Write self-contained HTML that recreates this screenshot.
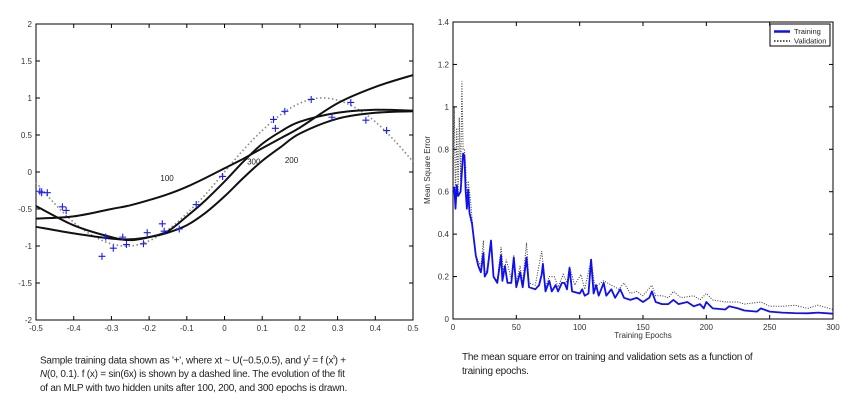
<!DOCTYPE html>
<html><head><meta charset="utf-8"><style>
body{margin:0;width:862px;height:413px;background:#fff;overflow:hidden;font-family:"Liberation Sans",sans-serif}
svg{position:absolute;left:0;top:0}
.cap{position:absolute;font-size:10px;line-height:14px;color:#222;letter-spacing:-0.25px}
</style></head><body>
<svg id="c" width="862" height="413"></svg>
<div class="cap" style="left:40px;top:351px;width:370px">Sample training data shown as '+', where xt ~ U(−0.5,0.5), and y<sup style="font-size:6px">t</sup> = f (x<sup style="font-size:6px">t</sup>) +<br><i>N</i>(0, 0.1). f (x) = sin(6x) is shown by a dashed line. The evolution of the fit<br>of an MLP with two hidden units after 100, 200, and 300 epochs is drawn.</div>
<div class="cap" style="left:462px;top:351px;width:370px">The mean square error on training and validation sets as a function of<br>training epochs.</div>
<script>
const fxs=[-0.5,-0.45,-0.4,-0.35,-0.3,-0.25,-0.2,-0.15,-0.1,-0.05,0,0.05,0.1,0.15,0.2,0.25,0.3,0.35,0.4,0.45,0.5];
const sinVals=[-0.14,-0.43,-0.68,-0.86,-0.97,-1.0,-0.93,-0.78,-0.56,-0.3,0,0.3,0.56,0.78,0.93,1.0,0.97,0.86,0.68,0.43,0.14];
const cx=[-0.5,-0.4,-0.3,-0.25,-0.2,-0.15,-0.1,-0.05,0,0.05,0.1,0.15,0.2,0.3,0.4,0.5];
const fit100=[-0.63,-0.6,-0.5,-0.45,-0.38,-0.3,-0.2,-0.08,0.05,0.18,0.32,0.46,0.6,0.93,1.15,1.31];
const fit200=[-0.74,-0.83,-0.9,-0.91,-0.88,-0.82,-0.72,-0.55,-0.33,-0.08,0.15,0.34,0.52,0.72,0.8,0.82];
const fit300=[-0.46,-0.72,-0.88,-0.92,-0.88,-0.8,-0.6,-0.38,-0.13,0.14,0.38,0.55,0.68,0.8,0.84,0.83];
const ptX=[-0.49,-0.485,-0.47,-0.43,-0.42,-0.325,-0.315,-0.295,-0.27,-0.26,-0.215,-0.205,-0.165,-0.16,-0.12,-0.075,-0.005,0.13,0.135,0.16,0.23,0.285,0.335,0.375,0.43];
const ptY=[-0.26,-0.28,-0.28,-0.47,-0.52,-1.14,-0.88,-1.03,-0.88,-0.98,-0.97,-0.82,-0.7,-0.8,-0.77,-0.44,-0.06,0.71,0.59,0.82,0.98,0.74,0.94,0.7,0.56];
const lxTicks=["-0.5","-0.4","-0.3","-0.2","-0.1","0","0.1","0.2","0.3","0.4","0.5"];
const lyTicks=["-2","-1.5","-1","-0.5","0","0.5","1","1.5","2"];
const trE=[0,1,2,3,4,6,8,9,10,11,12,13,15,18,20,22,24,25,27,30,32,35,38,39,41,43,46,48,50,53,55,58,60,65,68,70,71,73,76,78,81,83,86,88,90,92,94,100,102,104,107,109,111,113,115,119,121,125,128,132,135,140,145,150,155,157,160,165,170,174,178,185,190,195,198,200,205,215,218,225,230,240,243,250,260,270,280,288,300];
const trV=[0.6,0.62,0.52,0.63,0.58,0.6,0.78,0.77,0.6,0.52,0.61,0.5,0.45,0.3,0.25,0.22,0.31,0.2,0.22,0.37,0.2,0.17,0.3,0.18,0.25,0.17,0.17,0.29,0.15,0.22,0.15,0.29,0.15,0.14,0.16,0.21,0.26,0.13,0.18,0.13,0.16,0.13,0.17,0.17,0.14,0.24,0.13,0.12,0.14,0.11,0.12,0.28,0.12,0.16,0.11,0.17,0.11,0.14,0.1,0.14,0.1,0.09,0.1,0.08,0.1,0.13,0.08,0.07,0.07,0.09,0.07,0.08,0.06,0.07,0.05,0.08,0.05,0.045,0.06,0.05,0.04,0.035,0.05,0.035,0.03,0.028,0.027,0.03,0.025];
const vaE=[0,1,2,3,4,5,6,7,8,9,10,11,12,14,16,18,20,22,24,25,27,30,32,35,38,40,42,46,48,50,53,55,58,60,65,70,73,76,80,83,87,90,92,96,101,104,109,112,119,125,131,135,140,145,150,157,160,165,170,174,180,190,195,200,205,215,225,230,243,250,260,270,280,288,300];
const vaV=[0.6,1.0,0.55,0.9,0.6,0.95,0.65,1.12,0.8,0.8,0.72,0.55,0.65,0.55,0.4,0.3,0.27,0.25,0.37,0.2,0.24,0.36,0.2,0.18,0.34,0.2,0.28,0.19,0.3,0.17,0.25,0.17,0.36,0.17,0.16,0.32,0.15,0.2,0.2,0.15,0.21,0.17,0.25,0.16,0.21,0.14,0.28,0.15,0.18,0.16,0.14,0.17,0.12,0.13,0.11,0.16,0.11,0.11,0.1,0.13,0.1,0.11,0.09,0.12,0.09,0.08,0.08,0.07,0.08,0.06,0.06,0.065,0.05,0.065,0.045];
const rxTicks=["0","50","100","150","200","250","300"];
const ryTicks=["0","0.2","0.4","0.6","0.8","1","1.2","1.4"];

const svg=document.getElementById('c');const NS="http://www.w3.org/2000/svg";
function mk(t,a,name,txt){const e=document.createElementNS(NS,t);for(const k in a)e.setAttribute(k,a[k]);


if(txt!==undefined)e.textContent=txt;svg.appendChild(e);return e;}
const L={x0:36,x1:413,y0:24,y1:320};
const lx=v=>L.x0+(v+0.5)*(L.x1-L.x0);const ly=v=>L.y1-(v+2)/4*(L.y1-L.y0);
const R={x0:453,x1:833,y0:22,y1:319};
const rx=v=>R.x0+v/300*(R.x1-R.x0);const ry=v=>R.y1-v/1.4*(R.y1-R.y0);
function frame(P,name){mk('rect',{x:P.x0,y:P.y0,width:P.x1-P.x0,height:P.y1-P.y0,fill:'none',stroke:'#000','stroke-width':1},name);}
frame(L,'left-plot-frame');frame(R,'right-plot-frame');
lxTicks.forEach(t=>{const x=lx(+t);mk('line',{x1:x,x2:x,y1:L.y1,y2:L.y1-4,stroke:'#000'},'x-tick');mk('line',{x1:x,x2:x,y1:L.y0,y2:L.y0+4,stroke:'#000'},'x-tick');
mk('text',{x:x,y:L.y1+11,'font-size':8,'text-anchor':'middle',fill:'#333'},'x-tick-label',t);});
lyTicks.forEach(t=>{const y=ly(+t);mk('line',{x1:L.x0,x2:L.x0+4,y1:y,y2:y,stroke:'#000'},'y-tick');mk('line',{x1:L.x1,x2:L.x1-4,y1:y,y2:y,stroke:'#000'},'y-tick');
mk('text',{x:L.x0-4,y:y+3,'font-size':8,'text-anchor':'end',fill:'#333'},'y-tick-label',t);});
rxTicks.forEach(t=>{const x=rx(+t);mk('line',{x1:x,x2:x,y1:R.y1,y2:R.y1-4,stroke:'#000'},'x-tick');mk('line',{x1:x,x2:x,y1:R.y0,y2:R.y0+4,stroke:'#000'},'x-tick');
mk('text',{x:x,y:R.y1+11,'font-size':8,'text-anchor':'middle',fill:'#333'},'x-tick-label',t);});
ryTicks.forEach(t=>{const y=ry(+t);mk('line',{x1:R.x0,x2:R.x0+4,y1:y,y2:y,stroke:'#000'},'y-tick');mk('line',{x1:R.x1,x2:R.x1-4,y1:y,y2:y,stroke:'#000'},'y-tick');
mk('text',{x:R.x0-4,y:y+3,'font-size':8,'text-anchor':'end',fill:'#333'},'y-tick-label',t);});
mk('text',{x:643,y:338,'font-size':8,'text-anchor':'middle',fill:'#333'},'x-axis-title','Training Epochs');
mk('text',{x:430,y:170,'font-size':8,'text-anchor':'middle',fill:'#333',transform:'rotate(-90 430 170)'},'y-axis-title','Mean Square Error');
function path(xs,ys,fx,fy){return xs.map((v,i)=>(i?'L':'M')+fx(v).toFixed(1)+','+fy(ys[i]).toFixed(1)).join('');}
function smooth(xs,ys,fx,fy){const p=xs.map((v,i)=>[fx(v),fy(ys[i])]);let d='M'+p[0][0].toFixed(1)+','+p[0][1].toFixed(1);
for(let i=0;i<p.length-1;i++){const a=p[Math.max(i-1,0)],b=p[i],c=p[i+1],e=p[Math.min(i+2,p.length-1)];
const c1=[b[0]+(c[0]-a[0])/6,b[1]+(c[1]-a[1])/6],c2=[c[0]-(e[0]-b[0])/6,c[1]-(e[1]-b[1])/6];
d+=`C${c1[0].toFixed(1)},${c1[1].toFixed(1)} ${c2[0].toFixed(1)},${c2[1].toFixed(1)} ${c[0].toFixed(1)},${c[1].toFixed(1)}`;}return d;}
mk('path',{d:smooth(fxs,sinVals,lx,ly),fill:'none',stroke:'#888','stroke-width':1.6,'stroke-dasharray':'1.5,2.5'},'true-function-sin6x');
[[fit100,'fit-100-epochs'],[fit200,'fit-200-epochs'],[fit300,'fit-300-epochs']].forEach(([d,n])=>mk('path',{d:smooth(cx,d,lx,ly),fill:'none',stroke:'#111','stroke-width':2,'stroke-linejoin':'round'},n));
ptX.forEach((x,i)=>{const X=lx(x),Y=ly(ptY[i]);mk('path',{d:`M${X-3.5},${Y}H${X+3.5}M${X},${Y-3.5}V${Y+3.5}`,stroke:'#1a1aff','stroke-width':1.1},'data-point');});
mk('text',{x:lx(-0.17),y:ly(-0.12),'font-size':8,fill:'#222'},'label-100','100');
mk('text',{x:lx(0.06),y:ly(0.1),'font-size':8,fill:'#222'},'label-300','300');
mk('text',{x:lx(0.16),y:ly(0.12),'font-size':8,fill:'#222'},'label-200','200');
mk('path',{d:path(vaE,vaV,rx,ry),fill:'none',stroke:'#333','stroke-width':1,'stroke-dasharray':'1,1.5'},'validation-line');
mk('path',{d:path(trE,trV,rx,ry),fill:'none',stroke:'#1010ee','stroke-width':1.8,'stroke-linejoin':'round'},'training-line');
mk('rect',{x:770,y:24,width:60,height:22,fill:'#fff',stroke:'#000'},'legend-box');
mk('line',{x1:774,x2:790,y1:31.5,y2:31.5,stroke:'#1010ee','stroke-width':2.5},'legend-training-swatch');
mk('text',{x:794,y:34,'font-size':7.5,fill:'#222'},'legend-training-label','Training');
mk('line',{x1:774,x2:790,y1:41,y2:41,stroke:'#222','stroke-width':1.5,'stroke-dasharray':'1.5,1.5'},'legend-validation-swatch');
mk('text',{x:794,y:43.5,'font-size':7.5,fill:'#222'},'legend-validation-label','Validation');
</script>
</body></html>
